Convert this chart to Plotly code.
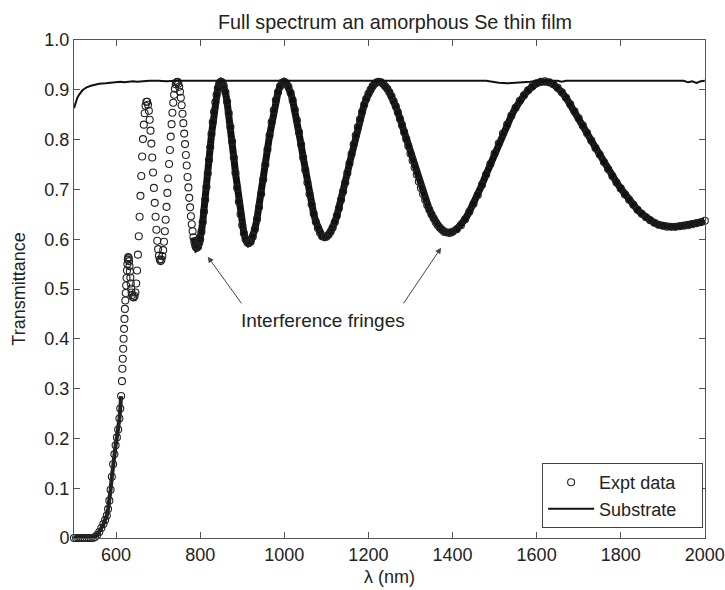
import plotly.graph_objects as go

# ---------------- data ----------------
wavelength_nm = [
    500, 505, 510, 515, 520, 525, 530, 535, 540, 545, 550, 555, 560, 565, 570, 574, 578, 581, 584, 587,
    590, 593, 596, 599, 602, 605, 608, 610, 612, 614, 615, 616, 617, 618, 619, 620, 621, 622, 623, 624,
    625, 626, 627, 628, 629, 630, 631, 632, 633, 634, 635, 636, 637, 638, 640, 642, 644, 646, 648, 650,
    652, 654, 656, 658, 660, 662, 664, 666, 668, 670, 672, 674, 676, 678, 680, 682, 684, 686, 688, 690,
    692, 694, 696, 698, 700, 702, 704, 706, 708, 710, 712, 714, 716, 718, 720, 722, 724, 726, 728, 730,
    732, 734, 736, 738, 740, 742, 744, 746, 748, 750, 752, 754, 756, 758, 760, 762, 764, 766, 768, 770,
    772, 774, 776, 778, 780, 782, 784, 786, 788, 790, 792, 795, 798, 800, 803, 806, 809, 812, 815, 818,
    821, 824, 827, 830, 833, 836, 839, 842, 845, 848, 850, 853, 856, 860, 864, 868, 872, 876, 880, 884,
    888, 892, 896, 900, 904, 908, 912, 915, 920, 925, 930, 935, 940, 945, 950, 955, 960, 965, 970, 975,
    980, 985, 990, 995, 1000, 1005, 1010, 1015, 1020, 1025, 1030, 1035, 1040, 1045, 1050, 1055, 1060, 1065, 1070, 1075,
    1080, 1085, 1090, 1096, 1100, 1105, 1110, 1115, 1120, 1125, 1130, 1135, 1140, 1145, 1150, 1155, 1160, 1165, 1170, 1175,
    1180, 1185, 1190, 1195, 1200, 1205, 1210, 1215, 1220, 1225, 1230, 1235, 1240, 1245, 1250, 1255, 1260, 1265, 1270, 1275,
    1280, 1285, 1290, 1295, 1300, 1305, 1310, 1315, 1320, 1325, 1330, 1335, 1340, 1345, 1350, 1355, 1360, 1365, 1370, 1375,
    1380, 1385, 1391, 1395, 1400, 1410, 1420, 1430, 1440, 1450, 1460, 1470, 1480, 1490, 1500, 1510, 1520, 1530, 1540, 1550,
    1560, 1570, 1580, 1590, 1600, 1610, 1620, 1630, 1640, 1650, 1660, 1670, 1680, 1690, 1700, 1710, 1720, 1730, 1740, 1750,
    1760, 1770, 1780, 1790, 1800, 1810, 1820, 1830, 1840, 1850, 1860, 1870, 1880, 1890, 1900, 1910, 1920, 1930, 1940, 1950,
    1960, 1970, 1980, 1990, 2000,
]
expt_T = [
    0, 0, 0, 0, 0, 0, 0, 0, 0, 0, 0.002, 0.006, 0.012, 0.02, 0.028, 0.036, 0.045, 0.058, 0.075, 0.097,
    0.123, 0.148, 0.168, 0.186, 0.202, 0.218, 0.24, 0.26, 0.285, 0.315, 0.34, 0.36, 0.38, 0.40, 0.42, 0.44, 0.46, 0.477, 0.492, 0.507,
    0.522, 0.537, 0.55, 0.559, 0.564, 0.562, 0.556, 0.546, 0.535, 0.523, 0.511, 0.501, 0.493, 0.488, 0.484, 0.483, 0.486, 0.493, 0.511, 0.537,
    0.569, 0.606, 0.645, 0.687, 0.727, 0.766, 0.801, 0.830, 0.853, 0.868, 0.876, 0.876, 0.870, 0.858, 0.840, 0.818, 0.792, 0.764, 0.734, 0.703,
    0.673, 0.645, 0.619, 0.597, 0.580, 0.567, 0.559, 0.556, 0.559, 0.566, 0.578, 0.595, 0.616, 0.639, 0.665, 0.693, 0.722, 0.751, 0.779, 0.806,
    0.831, 0.854, 0.874, 0.890, 0.902, 0.911, 0.915, 0.916, 0.912, 0.906, 0.896, 0.884, 0.869, 0.852, 0.833, 0.812, 0.791, 0.769, 0.748, 0.725,
    0.704, 0.683, 0.664, 0.646, 0.630, 0.616, 0.604, 0.595, 0.588, 0.584, 0.583, 0.585, 0.593, 0.600, 0.615, 0.634, 0.655, 0.679, 0.705, 0.732,
    0.759, 0.785, 0.811, 0.835, 0.856, 0.875, 0.890, 0.903, 0.911, 0.915, 0.916, 0.914, 0.908, 0.895, 0.876, 0.853, 0.825, 0.796, 0.764, 0.733,
    0.703, 0.675, 0.650, 0.628, 0.612, 0.600, 0.594, 0.592, 0.595, 0.605, 0.620, 0.640, 0.664, 0.691, 0.720, 0.750, 0.780, 0.808, 0.835, 0.859,
    0.879, 0.895, 0.907, 0.914, 0.916, 0.913, 0.906, 0.894, 0.879, 0.860, 0.839, 0.815, 0.790, 0.764, 0.739, 0.714, 0.691, 0.670, 0.651, 0.635,
    0.622, 0.613, 0.606, 0.604, 0.605, 0.609, 0.615, 0.623, 0.634, 0.647, 0.662, 0.679, 0.696, 0.714, 0.733, 0.752, 0.771, 0.790, 0.808, 0.825,
    0.841, 0.856, 0.870, 0.882, 0.892, 0.900, 0.907, 0.912, 0.915, 0.916, 0.915, 0.912, 0.907, 0.902, 0.895, 0.887, 0.877, 0.867, 0.855, 0.842,
    0.829, 0.815, 0.801, 0.787, 0.772, 0.758, 0.744, 0.730, 0.716, 0.703, 0.691, 0.679, 0.668, 0.659, 0.650, 0.642, 0.634, 0.628, 0.623, 0.619,
    0.615, 0.614, 0.613, 0.613, 0.615, 0.620, 0.628, 0.640, 0.655, 0.671, 0.689, 0.709, 0.730, 0.751, 0.772, 0.792, 0.812, 0.830, 0.848, 0.864,
    0.878, 0.889, 0.899, 0.907, 0.913, 0.916, 0.917, 0.915, 0.911, 0.904, 0.895, 0.884, 0.871, 0.857, 0.843, 0.828, 0.813, 0.798, 0.783, 0.770,
    0.755, 0.741, 0.727, 0.714, 0.702, 0.690, 0.679, 0.669, 0.659, 0.651, 0.644, 0.638, 0.633, 0.629, 0.627, 0.625, 0.625, 0.625, 0.626, 0.627,
    0.628, 0.630, 0.632, 0.634, 0.637,
]

substrate_wavelength_nm = [
    500, 504, 508, 512, 516, 520, 525, 530, 540, 550, 560, 575, 590, 600, 610, 620, 630, 640, 650, 660,
    680, 700, 720, 740, 760, 800, 900, 1000, 1100, 1200, 1300, 1400, 1480, 1495, 1510, 1530, 1550, 1570, 1585, 1600,
    1650, 1660, 1670, 1700, 1800, 1900, 1950, 1960, 1970, 1980, 1990, 2000,
]
substrate_T = [
    0.863, 0.876, 0.884, 0.890, 0.895, 0.899, 0.902, 0.905, 0.908, 0.910, 0.912, 0.913, 0.914, 0.915, 0.916, 0.915, 0.916, 0.917, 0.916, 0.917,
    0.918, 0.918, 0.917, 0.918, 0.918, 0.918, 0.918, 0.918, 0.918, 0.918, 0.918, 0.918, 0.918, 0.916, 0.914, 0.913, 0.914, 0.914, 0.916, 0.918,
    0.918, 0.916, 0.918, 0.918, 0.918, 0.918, 0.918, 0.915, 0.917, 0.914, 0.917, 0.918,
]

x_tick_values = [600, 800, 1000, 1200, 1400, 1600, 1800, 2000]
x_tick_labels = ["600", "800", "1000", "1200", "1400", "1600", "1800", "2000"]
y_tick_values = [0, 0.1, 0.2, 0.3, 0.4, 0.5, 0.6, 0.7, 0.8, 0.9, 1.0]
y_tick_labels = ["0", "0.1", "0.2", "0.3", "0.4", "0.5", "0.6", "0.7", "0.8", "0.9", "1.0"]

title_text = "Full spectrum an amorphous Se thin film"
x_title = "λ (nm)"
y_title = "Transmittance"
series_names = ["Expt data", "Substrate"]
annotation_text = "Interference fringes"

# ---------------- figure ----------------
FONT = "Liberation Sans, Arial, Helvetica, sans-serif"
INK = "#222222"
PAD = "\u00a0" * 4  # right padding inside the legend box

# parts of the measurement where the circles pile up into a solid band
band_x = [w for w in wavelength_nm if w >= 784]
band_y = [t for w, t in zip(wavelength_nm, expt_T) if w >= 784]
edge_x = [w for w in wavelength_nm if w <= 612]
edge_y = [t for w, t in zip(wavelength_nm, expt_T) if w <= 612]

fig = go.Figure()
fig.add_trace(go.Scatter(
    x=band_x, y=band_y, mode="lines", showlegend=False, hoverinfo="skip",
    line=dict(color="#111111", width=7), cliponaxis=False,
))
fig.add_trace(go.Scatter(
    x=edge_x, y=edge_y, mode="lines", showlegend=False, hoverinfo="skip",
    line=dict(color="#222222", width=4), cliponaxis=False,
))
fig.add_trace(go.Scatter(
    x=wavelength_nm, y=expt_T, mode="markers", name=series_names[0] + PAD,
    marker=dict(symbol="circle-open", size=7, color=INK, line=dict(width=1.1)),
    cliponaxis=False,
))
fig.add_trace(go.Scatter(
    x=substrate_wavelength_nm, y=substrate_T, mode="lines", name=series_names[1] + PAD,
    line=dict(color="#111111", width=2),
))

axis_common = dict(
    showgrid=False, zeroline=False, showline=True, linecolor="#555555", linewidth=1,
    mirror="allticks", ticks="inside", ticklen=6, tickcolor="#555555", tickwidth=1,
    tickfont=dict(family=FONT, size=18, color=INK), automargin=False,
)

fig.update_layout(
    template="none",
    width=725, height=590,
    margin=dict(l=74, r=20, t=40, b=52, autoexpand=False),
    paper_bgcolor="white", plot_bgcolor="white",
    font=dict(family=FONT, size=18, color=INK),
    title=dict(text=title_text, x=395 / 725, xanchor="center", xref="container",
               y=1 - 22 / 590, yanchor="middle", yref="container",
               font=dict(family=FONT, size=19.8, color=INK)),
    xaxis=dict(range=[500, 2000.4], tickvals=x_tick_values, ticktext=x_tick_labels,
               title=dict(text=x_title, font=dict(family=FONT, size=18, color=INK), standoff=6),
               **axis_common),
    yaxis=dict(range=[0, 1], tickvals=y_tick_values, ticktext=y_tick_labels,
               title=dict(text=y_title, font=dict(family=FONT, size=18, color=INK), standoff=14),
               **axis_common),
    legend=dict(x=0.997, xanchor="right", y=0.02, yanchor="bottom",
                bordercolor="#444444", borderwidth=1, bgcolor="white",
                itemwidth=46,
                font=dict(family=FONT, size=18, color=INK), tracegroupgap=0),
    showlegend=True,
)

fig.add_annotation(x=1091, y=0.437, xref="x", yref="y", text=annotation_text,
                   showarrow=False, font=dict(family=FONT, size=19, color=INK))
fig.add_annotation(x=818, y=0.565, ax=901, ay=0.468, xref="x", yref="y", axref="x", ayref="y",
                   text="", showarrow=True, arrowhead=2, arrowsize=1.2, arrowwidth=1,
                   arrowcolor="#444444", standoff=0, startstandoff=0)
fig.add_annotation(x=1373, y=0.583, ax=1281, ay=0.468, xref="x", yref="y", axref="x", ayref="y",
                   text="", showarrow=True, arrowhead=2, arrowsize=1.2, arrowwidth=1,
                   arrowcolor="#444444", standoff=0, startstandoff=0)

fig.write_html("out.html", config={"displayModeBar": False},
               post_script="document.body.style.margin='0px';")
